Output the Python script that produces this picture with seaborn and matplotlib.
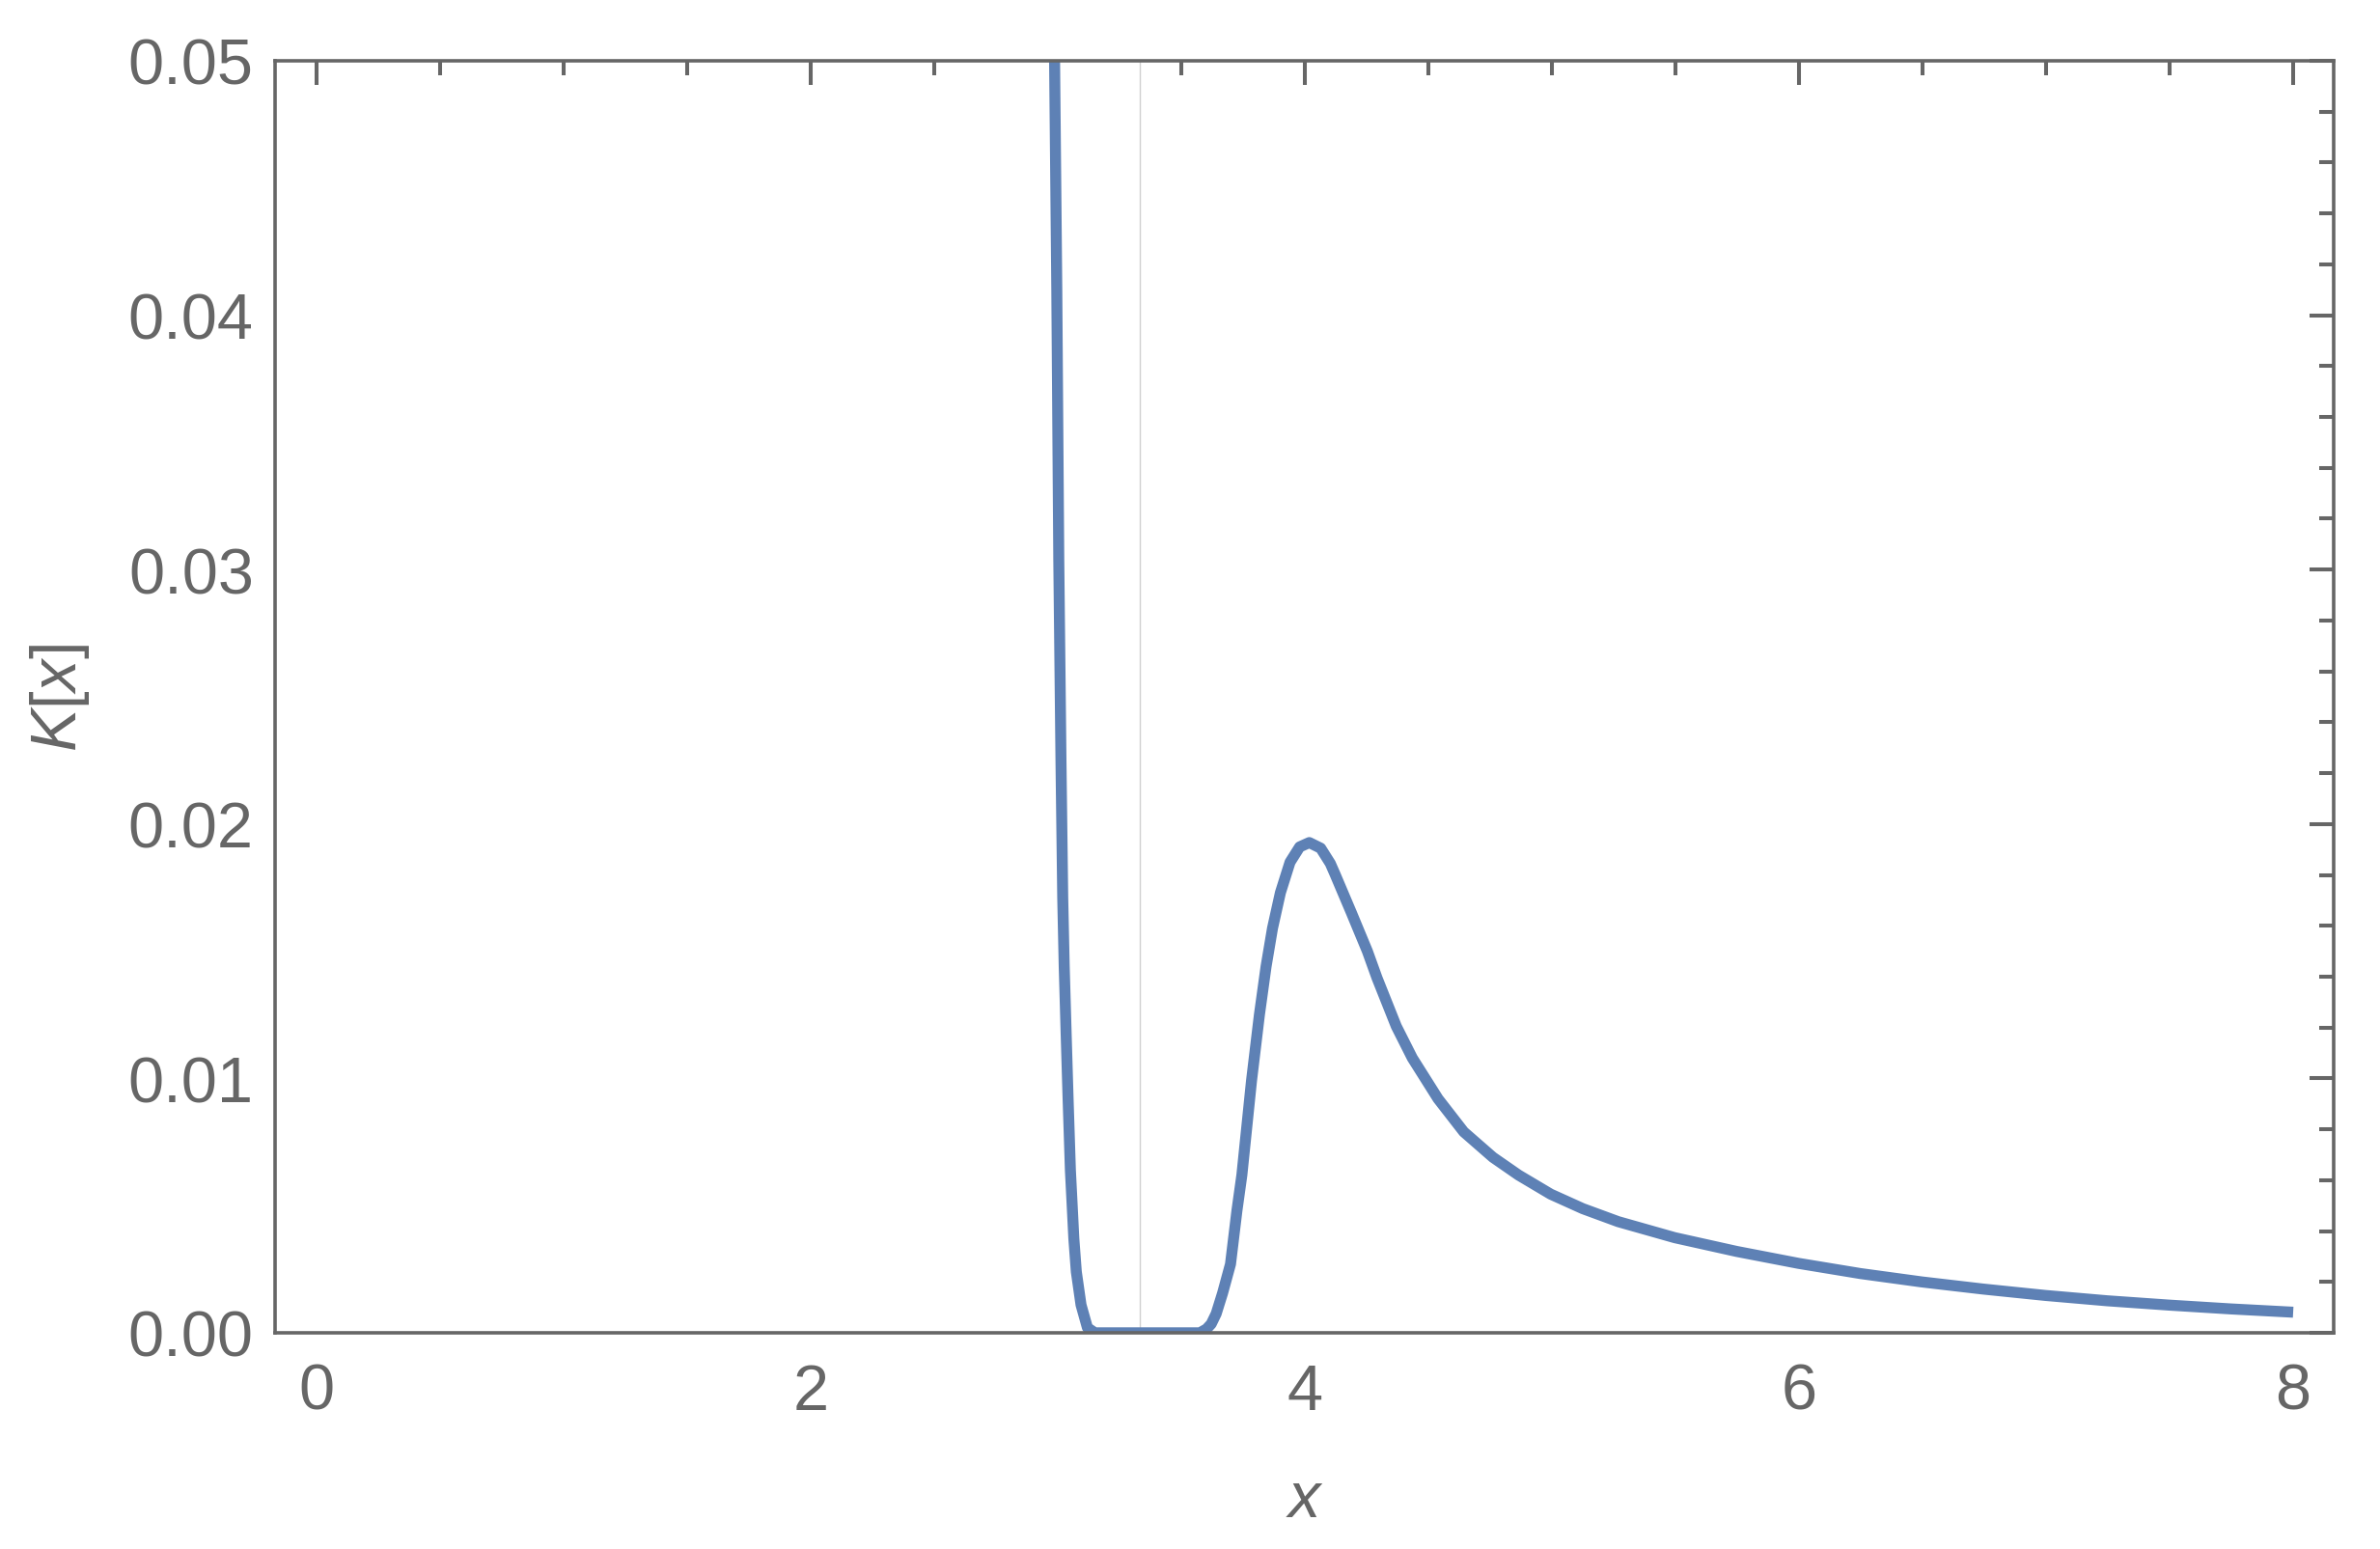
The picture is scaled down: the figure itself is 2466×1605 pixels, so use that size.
import numpy as np
import pandas as pd
import matplotlib
matplotlib.use('Agg')
import matplotlib.pyplot as plt
from matplotlib.ticker import MultipleLocator
import seaborn as sns

# values
x_vals = [2.982, 2.987, 2.996, 3.004, 3.013, 3.020, 3.026, 3.034, 3.042, 3.051,
          3.065, 3.075, 3.094, 3.120, 3.150, 3.300, 3.450, 3.575, 3.602, 3.621,
          3.641, 3.667, 3.699, 3.725, 3.745, 3.784, 3.816, 3.843, 3.869, 3.901,
          3.940, 3.979, 4.018, 4.064, 4.103, 4.122, 4.188, 4.253, 4.292, 4.331,
          4.370, 4.435, 4.539, 4.643, 4.761, 4.865, 4.995, 5.125, 5.268,
          5.497, 5.747, 5.998, 6.248, 6.497, 6.745, 6.996, 7.246, 7.496, 7.746,
          8.000]
k_vals = [0.0550, 0.0500, 0.0410, 0.0304, 0.0224, 0.0171, 0.0144, 0.0117, 0.0091, 0.0064,
          0.0037, 0.0024, 0.0011, 0.0002, 0.0, 0.0, 0.0, 0.0, 0.00015, 0.00035,
          0.00075, 0.00156, 0.0027, 0.0048, 0.0062, 0.0099, 0.0125, 0.0144, 0.0159, 0.0173,
          0.0185, 0.0191, 0.01927, 0.01905, 0.01845, 0.01803, 0.01652, 0.0150, 0.01395, 0.0130,
          0.01205, 0.0108, 0.0092, 0.0079, 0.0069, 0.0062, 0.00545, 0.00488, 0.00437,
          0.00374, 0.00320, 0.00273, 0.00233, 0.00200, 0.00172, 0.00147, 0.00126, 0.00109, 0.00094,
          0.00081]
x_marker = 10 / 3

x_ticks = [0, 2, 4, 6, 8]
y_ticks = [0.00, 0.01, 0.02, 0.03, 0.04, 0.05]
y_ticklabels = ['0.00', '0.01', '0.02', '0.03', '0.04', '0.05']

df = pd.DataFrame({'x': x_vals, 'K': k_vals})

sns.set_style('white')
plt.rcParams['font.family'] = ['Liberation Sans', 'DejaVu Sans']
plt.rcParams['mathtext.fontset'] = 'custom'
plt.rcParams['mathtext.it'] = 'Liberation Sans:italic'
plt.rcParams['mathtext.rm'] = 'Liberation Sans'

gray = '#666666'
fig = plt.figure(figsize=(24.66, 16.06), dpi=100)
ax = fig.add_axes([0.11557, 0.13948, 0.86497, 0.82067])

ax.axvline(x_marker, color='#d0d0d0', lw=1.0, zorder=1)
sns.lineplot(data=df, x='x', y='K', ax=ax, color='#5E81B5', linewidth=8,
             solid_capstyle='butt', solid_joinstyle='round', zorder=2)
ax.lines[-1].set_linewidth(8.2)

ax.set_xlim(-0.168, 8.164)
ax.set_ylim(0, 0.05)
ax.set_xticks(x_ticks)
ax.set_yticks(y_ticks)
ax.set_yticklabels(y_ticklabels)
ax.xaxis.set_minor_locator(MultipleLocator(0.5))
ax.yaxis.set_minor_locator(MultipleLocator(0.002))

ax.tick_params(which='both', direction='in', top=True, right=True, color=gray,
               width=2.9, labelcolor=gray, labelsize=48)
ax.tick_params(which='major', length=18)
ax.tick_params(which='minor', length=10.8)
ax.tick_params(axis='x', pad=22)
ax.tick_params(axis='y', pad=16)

for s in ax.spines.values():
    s.set_color(gray)
    s.set_linewidth(2.6)
    s.set_visible(True)

ax.set_xlabel('$x$', fontsize=48, color=gray)
ax.set_ylabel('$K$[$x$]', fontsize=48, color=gray)
ax.xaxis.set_label_coords(0.5, -0.108)
ax.yaxis.set_label_coords(-0.089, 0.5)

fig.savefig('out.png', dpi=100, facecolor='white')
